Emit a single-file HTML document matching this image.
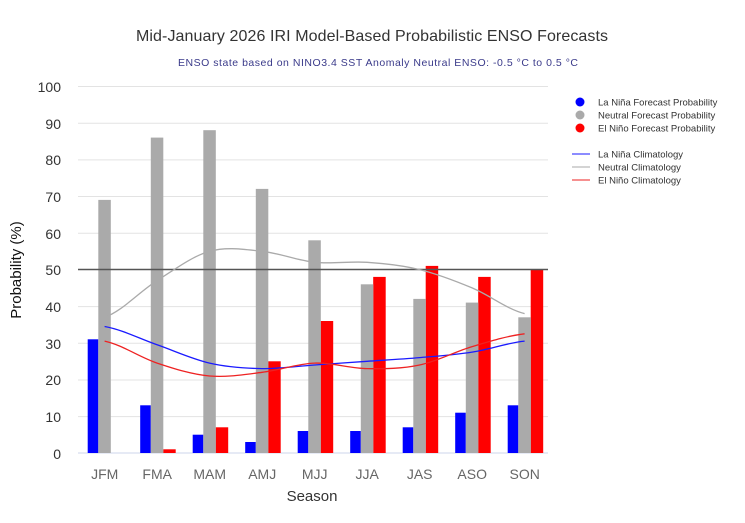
<!DOCTYPE html>
<html><head><meta charset="utf-8"><style>
body{margin:0;background:#fff}
svg{display:block;font-family:"Liberation Sans",sans-serif}
</style></head><body>
<svg width="745" height="523" xmlns="http://www.w3.org/2000/svg">
<rect width="745" height="523" fill="#fff"/>
<text x="372" y="41" text-anchor="middle" font-size="16" fill="#333" textLength="472">Mid-January 2026 IRI Model-Based Probabilistic ENSO Forecasts</text>
<text x="378" y="66" text-anchor="middle" font-size="10.5" fill="#3a3a8a" textLength="400">ENSO state based on NINO3.4 SST Anomaly Neutral ENSO: -0.5 °C to 0.5 °C</text>
<g stroke="#e3e3e3" stroke-width="1">
<line x1="78" x2="548" y1="86.5" y2="86.5"/><line x1="78" x2="548" y1="123.2" y2="123.2"/>
<line x1="78" x2="548" y1="159.9" y2="159.9"/><line x1="78" x2="548" y1="196.5" y2="196.5"/>
<line x1="78" x2="548" y1="233.2" y2="233.2"/><line x1="78" x2="548" y1="306.6" y2="306.6"/>
<line x1="78" x2="548" y1="343.3" y2="343.3"/><line x1="78" x2="548" y1="380" y2="380"/>
<line x1="78" x2="548" y1="416.6" y2="416.6"/><line x1="78" x2="548" y1="453" y2="453" stroke="#ccd6eb"/>
</g>
<g font-size="14" fill="#333" text-anchor="end">
<text x="61" y="92">100</text><text x="61" y="129">90</text><text x="61" y="165">80</text>
<text x="61" y="202">70</text><text x="61" y="239">60</text><text x="61" y="275">50</text>
<text x="61" y="312">40</text><text x="61" y="349">30</text><text x="61" y="385">20</text>
<text x="61" y="422">10</text><text x="61" y="459">0</text>
</g>
<text transform="translate(21,270) rotate(-90)" text-anchor="middle" font-size="15" fill="#111">Probability (%)</text>
<text x="312" y="501" text-anchor="middle" font-size="15" fill="#333">Season</text>
<g fill="#ff0000">
<rect x="163.2" y="449.3" width="12.5" height="3.7"/>
<rect x="215.7" y="427.3" width="12.5" height="25.7"/>
<rect x="268.2" y="361.3" width="12.5" height="91.7"/>
<rect x="320.7" y="321" width="12.5" height="132"/>
<rect x="373.2" y="276.9" width="12.5" height="176.1"/>
<rect x="425.7" y="265.9" width="12.5" height="187.1"/>
<rect x="478.2" y="276.9" width="12.5" height="176.1"/>
<rect x="530.7" y="269.6" width="12.5" height="183.4"/>
</g>
<g fill="#0000ff">
<rect x="87.7" y="339.3" width="10.6" height="113.7"/>
<rect x="140.2" y="405.3" width="10.6" height="47.7"/>
<rect x="192.7" y="434.7" width="10.6" height="18.3"/>
<rect x="245.2" y="442" width="10.6" height="11"/>
<rect x="297.7" y="431" width="10.6" height="22"/>
<rect x="350.2" y="431" width="10.6" height="22"/>
<rect x="402.7" y="427.3" width="10.6" height="25.7"/>
<rect x="455.2" y="412.7" width="10.6" height="40.3"/>
<rect x="507.7" y="405.3" width="10.6" height="47.7"/>
</g>
<g fill="#aaaaaa">
<rect x="98.3" y="199.9" width="12.5" height="253.1"/>
<rect x="150.8" y="137.6" width="12.5" height="315.4"/>
<rect x="203.3" y="130.2" width="12.5" height="322.8"/>
<rect x="255.8" y="188.9" width="12.5" height="264.1"/>
<rect x="308.3" y="240.3" width="12.5" height="212.7"/>
<rect x="360.8" y="284.3" width="12.5" height="168.7"/>
<rect x="413.3" y="298.9" width="12.5" height="154.1"/>
<rect x="465.8" y="302.6" width="12.5" height="150.4"/>
<rect x="518.3" y="317.3" width="12.5" height="135.7"/>
</g>
<g font-size="14" fill="#666" text-anchor="middle">
<text x="104.7" y="479">JFM</text><text x="157.2" y="479">FMA</text><text x="209.7" y="479">MAM</text>
<text x="262.2" y="479">AMJ</text><text x="314.7" y="479">MJJ</text><text x="367.2" y="479">JJA</text>
<text x="419.7" y="479">JAS</text><text x="472.2" y="479">ASO</text><text x="524.7" y="479">SON</text>
</g>
<line x1="78" x2="548" y1="269.5" y2="269.5" stroke="#555" stroke-width="1.5"/>
<g fill="none" stroke-width="1.3">
<path stroke="#aaa" d="M104.6,317.3 C122.1,311.2 139.6,291.6 157.1,280.6 C174.6,269.6 192.1,256.2 209.6,251.3 C227.1,246.4 244.6,249.5 262.1,251.3 C279.6,253.1 297.1,260.5 314.6,262.3 C332.1,264.1 349.6,261.1 367.1,262.3 C384.6,263.5 402.1,265.3 419.6,269.6 C437.1,273.9 454.6,280.6 472.1,287.9 C489.6,295.2 507.1,309.3 524.6,313.6"/>
<path stroke="#1a1aff" d="M104.6,326.5 C122.1,329.6 139.6,338.7 157.1,344.8 C174.6,350.9 192.1,359.1 209.6,363.1 C227.1,367.1 244.6,368.3 262.1,368.6 C279.6,368.9 297.1,366.2 314.6,365 C332.1,363.8 349.6,362.5 367.1,361.3 C384.6,360.1 402.1,359.1 419.6,357.6 C437.1,356.1 454.6,354.9 472.1,352.1 C489.6,349.4 507.1,342.9 524.6,341.1"/>
<path stroke="#ee2222" d="M104.6,341.1 C122.1,344.8 139.6,357.3 157.1,363.1 C174.6,368.9 192.1,374.5 209.6,376 C227.1,377.5 244.6,374.5 262.1,372.3 C279.6,370.2 297.1,363.7 314.6,363.1 C332.1,362.5 349.6,368.3 367.1,368.6 C384.6,368.9 402.1,368.7 419.6,365 C437.1,361.3 454.6,351.8 472.1,346.6 C489.6,341.4 507.1,335.9 524.6,333.8"/>
</g>
<g font-size="9.5" fill="#333">
<circle cx="580" cy="102" r="4.5" fill="#0000ff"/><text x="598" y="105.5">La Niña Forecast Probability</text>
<circle cx="580" cy="115" r="4.5" fill="#aaa"/><text x="598" y="118.5">Neutral Forecast Probability</text>
<circle cx="580" cy="128" r="4.5" fill="#ff0000"/><text x="598" y="131.5">El Niño Forecast Probability</text>
<line x1="572" x2="590" y1="154" y2="154" stroke="#1a1aff"/><text x="598" y="157.5">La Niña Climatology</text>
<line x1="572" x2="590" y1="167" y2="167" stroke="#aaa"/><text x="598" y="170.5">Neutral Climatology</text>
<line x1="572" x2="590" y1="180" y2="180" stroke="#ee2222"/><text x="598" y="183.5">El Niño Climatology</text>
</g>
</svg>
</body></html>
